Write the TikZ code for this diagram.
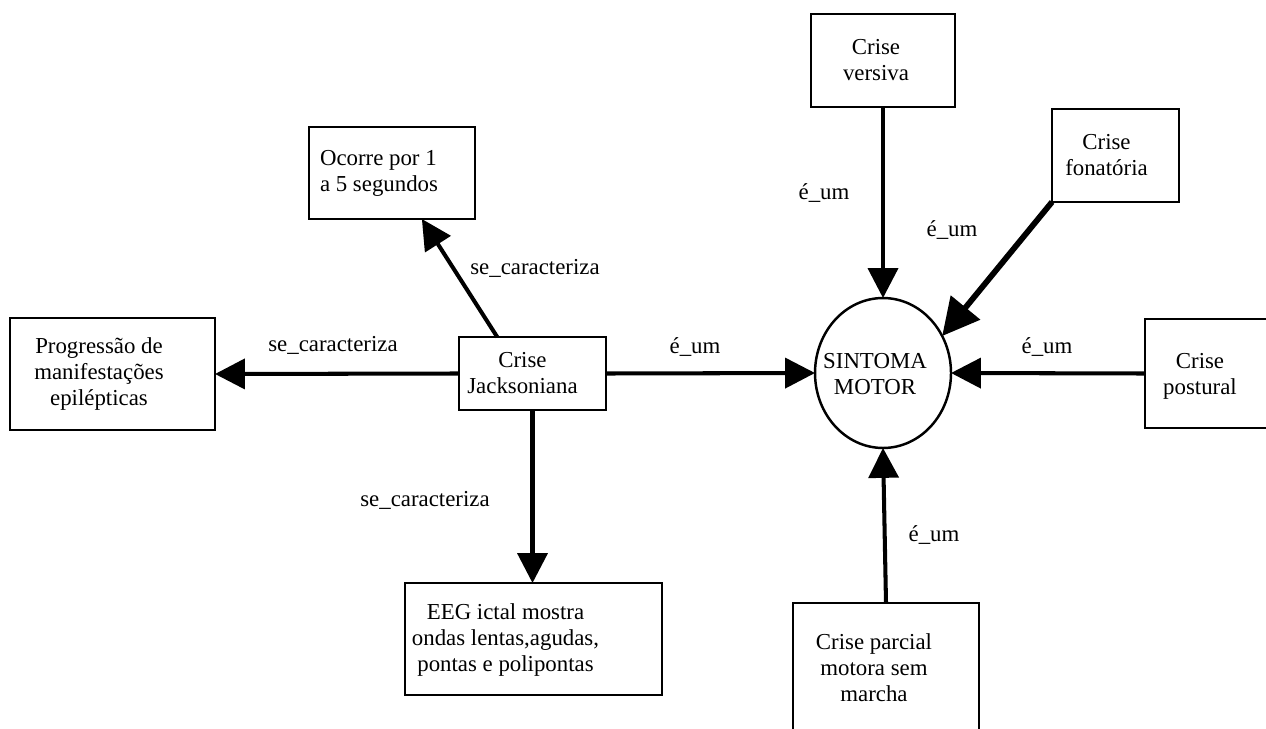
\documentclass[tikz,border=0pt]{standalone}
\usepackage{fontspec}
\setmainfont{Liberation Serif}
\usetikzlibrary{arrows.meta,shapes.geometric,calc}
\begin{document}
\begin{tikzpicture}[x=0.02cm,y=-0.02cm,
  every node/.style={font=\fontsize{13}{14.8}\selectfont},
  box/.style={draw, line width=1.4pt, rectangle, inner sep=0pt, outer sep=0pt},
  txt/.style={align=center, inner sep=0pt},
  rel/.style={line width=2.3pt, -{Triangle[length=17pt,width=17pt]}},
  lbl/.style={inner sep=0pt}]
\useasboundingbox (0,0) rectangle (1266,729);
\clip (0,0) rectangle (1266,729);

% concept boxes
\node[box, minimum width=3.32cm, minimum height=1.84cm,
  label={[txt, align=left, xshift=-0.26cm]center:{Ocorre por 1\\a 5 segundos}}] (ocorre) at (392,173) {};
\node[box, minimum width=4.1cm, minimum height=2.24cm,
  label={[txt, xshift=-0.27cm]center:{Progressão de\\manifestações\\epilépticas}}] (prog) at (112.5,374) {};
\node[box, minimum width=2.94cm, minimum height=1.46cm,
  label={[txt, xshift=-0.2cm]center:{Crise\\Jacksoniana}}] (jack) at (532.5,373.5) {};
\node[box, minimum width=5.14cm, minimum height=2.24cm,
  label={[txt, xshift=-0.56cm, yshift=-0.02cm]center:{EEG ictal mostra\\ondas lentas,agudas,\\pontas e polipontas}}] (eeg) at (533.5,639) {};
\node[box, minimum width=2.88cm, minimum height=1.86cm,
  label={[txt, xshift=-0.14cm]center:{Crise\\versiva}}] (versiva) at (883,60.5) {};
\node[box, minimum width=2.54cm, minimum height=1.86cm,
  label={[txt, xshift=-0.18cm]center:{Crise\\fonatória}}] (fona) at (1115.5,155.5) {};
\node[box, minimum width=2.9cm, minimum height=2.18cm,
  label={[txt, xshift=-0.35cm, yshift=-0.06cm]center:{Crise\\postural}}] (postural) at (1217.5,373.5) {};
\node[box, minimum width=3.72cm, minimum height=2.66cm,
  label={[txt, xshift=-0.24cm, yshift=0.03cm]center:{Crise parcial\\motora sem\\marcha}}] (parcial) at (886,669.5) {};

% central concept
\node[ellipse, draw, line width=1.4pt, minimum width=2.72cm, minimum height=3.0cm,
  inner sep=0pt, outer sep=0pt,
  label={[txt, xshift=-0.16cm, yshift=-0.03cm]center:{SINTOMA\\MOTOR}}] (motor) at (883,373) {};

% relations
\draw[rel] ($(jack.north west)!0.26!(jack.north east)$) -- ($(ocorre.south west)!0.68!(ocorre.south east)$);
\draw[rel] (jack.west) -- (prog.east);
\draw[rel] (jack.east) -- (motor.west);
\draw[rel] (jack.south) -- (jack.south |- eeg.north);
\draw[rel] (versiva.south) -- (motor.north);
\draw[rel, line width=3.3pt, -{Triangle[length=21pt,width=21pt]}] (fona.south west) -- (motor.32);
\draw[rel] (postural.west) -- (motor.east);
\draw[rel] (parcial.north) -- (motor.south);

% relation labels
\node[lbl] (l1) at (535,268) {se\_caracteriza};
\node[lbl] (l2) at (333,345) {se\_caracteriza};
\node[lbl] (l3) at (425,500) {se\_caracteriza};
\node[lbl] (l4) at (695,347) {é\_um};
\node[lbl] (l5) at (824,193) {é\_um};
\node[lbl] (l6) at (952,230) {é\_um};
\node[lbl] (l7) at (1047,347) {é\_um};
\node[lbl] (l8) at (934,535) {é\_um};
\end{tikzpicture}
\end{document}
